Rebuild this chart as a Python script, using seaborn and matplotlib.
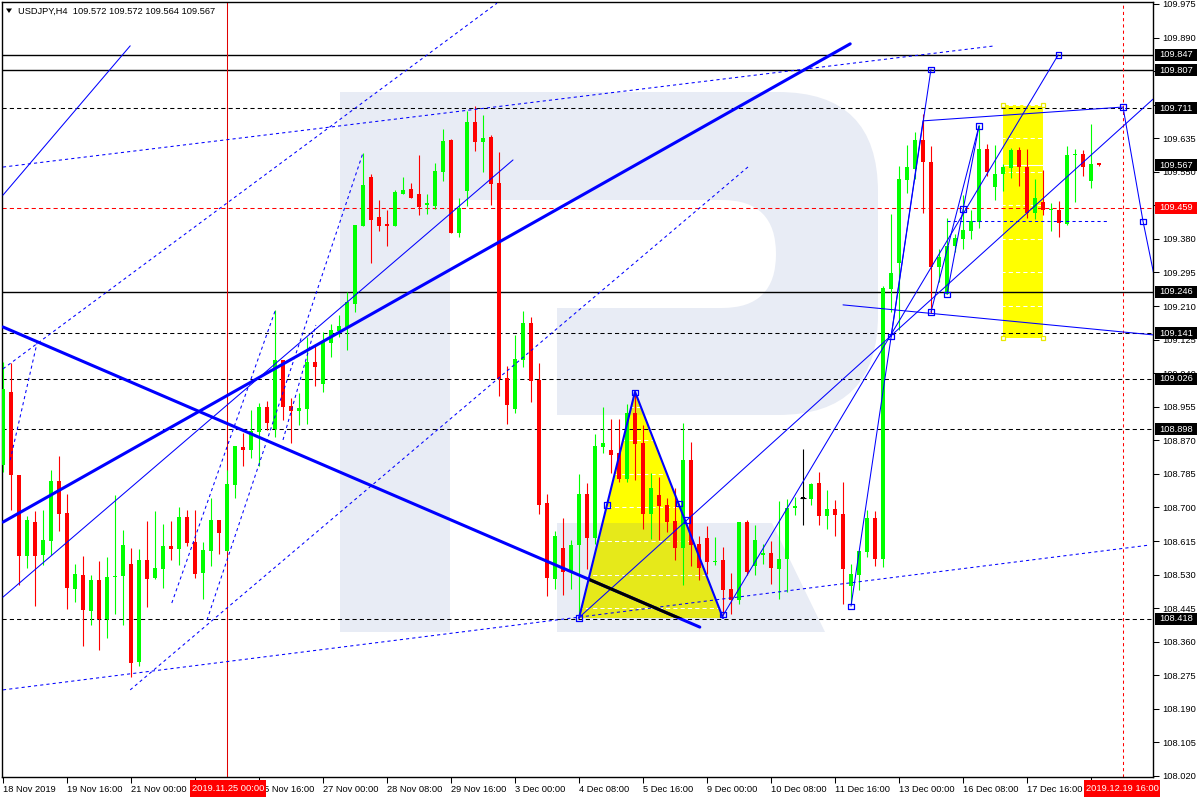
import numpy as np
import pandas as pd
import matplotlib
matplotlib.use("Agg")
import matplotlib.pyplot as plt
import matplotlib.patches as mpatches
import matplotlib.transforms as mtransforms
from matplotlib.path import Path
import seaborn as sns

# ---------------- data (bar index k = H4 bar, price) ----------------
opens = [108.808, 108.993, 108.782, 108.577, 108.664, 108.580, 108.615, 108.767, 108.686, 108.493,
         108.529, 108.438, 108.516, 108.418, 108.525, 108.526, 108.557, 108.309, 108.567, 108.521,
         108.544, 108.603, 108.595, 108.676, 108.613, 108.534, 108.590, 108.668, 108.590, 108.757,
         108.853, 108.845, 108.891, 108.954, 108.899, 109.073, 108.957, 108.944, 108.949, 109.068,
         109.013, 109.116, 109.147, 109.157, 109.215, 109.413, 109.537, 109.435, 109.418, 109.413,
         109.494, 109.506, 109.494, 109.466, 109.463, 109.549, 109.630, 109.395, 109.501, 109.676,
         109.625, 109.638, 109.522, 109.028, 108.949, 109.073, 109.167, 109.023, 108.711, 108.519,
         108.597, 108.537, 108.605, 108.734, 108.623, 108.853, 108.845, 108.838, 108.772, 108.939,
         108.863, 108.684, 108.732, 108.706, 108.666, 108.598, 108.820, 108.608, 108.623, 108.562,
         108.567, 108.494, 108.466, 108.664, 108.552, 108.580, 108.585, 108.545, 108.570, 108.699,
         108.724, 108.721, 108.762, 108.678, 108.696, 108.683, 108.501, 108.529, 108.587, 108.673,
         108.569, 109.253, 109.319, 109.529, 109.557, 109.630, 109.575, 109.309, 109.240, 109.362,
         109.380, 109.400, 109.423, 109.608, 109.511, 109.544, 109.560, 109.605, 109.562, 109.446,
         109.473, 109.453, 109.453, 109.418, 109.593, 109.595, 109.527, 109.572]
highs = [109.068, 109.066, 108.782, 108.678, 108.692, 108.694, 108.795, 108.830, 108.734, 108.557,
         108.577, 108.529, 108.564, 108.574, 108.731, 108.643, 108.597, 108.595, 108.666, 108.692,
         108.658, 108.666, 108.701, 108.694, 108.694, 108.612, 108.724, 108.668, 108.795, 108.856,
         108.888, 108.947, 108.964, 108.969, 109.200, 109.073, 108.977, 108.990, 109.132, 109.109,
         109.144, 109.164, 109.187, 109.246, 109.415, 109.598, 109.544, 109.478, 109.453, 109.504,
         109.537, 109.522, 109.593, 109.494, 109.572, 109.658, 109.633, 109.484, 109.704, 109.717,
         109.694, 109.643, 109.600, 109.058, 109.137, 109.197, 109.182, 109.066, 108.734, 108.640,
         108.673, 108.618, 108.785, 108.762, 108.886, 108.954, 108.924, 108.924, 108.962, 108.990,
         108.909, 108.787, 108.777, 108.724, 108.750, 108.914, 108.866, 108.628, 108.652, 108.625,
         108.600, 108.534, 108.664, 108.669, 108.656, 108.608, 108.615, 108.717, 108.722, 108.727,
         108.848, 108.762, 108.790, 108.744, 108.719, 108.764, 108.557, 108.590, 108.694, 108.691,
         109.260, 109.443, 109.565, 109.618, 109.651, 109.696, 109.615, 109.354, 109.433, 109.392,
         109.491, 109.453, 109.668, 109.620, 109.618, 109.570, 109.610, 109.613, 109.608, 109.532,
         109.555, 109.471, 109.476, 109.615, 109.608, 109.605, 109.671, 109.572]
lows = [108.790, 108.694, 108.504, 108.547, 108.451, 108.554, 108.580, 108.640, 108.443, 108.460,
        108.349, 108.403, 108.339, 108.369, 108.430, 108.402, 108.271, 108.299, 108.448, 108.520,
        108.496, 108.567, 108.554, 108.603, 108.522, 108.467, 108.552, 108.582, 108.590, 108.724,
        108.805, 108.825, 108.805, 108.896, 108.878, 108.921, 108.863, 108.909, 108.911, 109.008,
        108.992, 109.081, 109.132, 109.099, 109.195, 109.413, 109.319, 109.400, 109.362, 109.413,
        109.494, 109.484, 109.441, 109.443, 109.456, 109.527, 109.395, 109.385, 109.463, 109.603,
        109.550, 109.466, 108.982, 108.911, 108.939, 109.056, 108.967, 108.683, 108.475, 108.494,
        108.478, 108.494, 108.423, 108.544, 108.607, 108.838, 108.787, 108.765, 108.765, 108.770,
        108.646, 108.620, 108.618, 108.638, 108.567, 108.504, 108.552, 108.516, 108.532, 108.554,
        108.428, 108.430, 108.456, 108.529, 108.529, 108.557, 108.506, 108.469, 108.486, 108.681,
        108.656, 108.706, 108.656, 108.646, 108.628, 108.455, 108.455, 108.490, 108.575, 108.552,
        108.550, 109.195, 109.149, 109.496, 109.532, 109.446, 109.192, 109.271, 109.240, 109.347,
        109.354, 109.380, 109.408, 109.539, 109.478, 109.501, 109.534, 109.514, 109.433, 109.430,
        109.441, 109.400, 109.385, 109.415, 109.473, 109.539, 109.509, 109.564]
closes = [109.000, 108.782, 108.577, 108.668, 108.577, 108.618, 108.767, 108.684, 108.496, 108.532,
          108.441, 108.516, 108.418, 108.524, 108.527, 108.605, 108.306, 108.567, 108.519, 108.547,
          108.603, 108.595, 108.676, 108.610, 108.532, 108.592, 108.668, 108.635, 108.759, 108.856,
          108.845, 108.894, 108.954, 108.914, 109.073, 108.954, 108.944, 108.952, 109.068, 109.056,
          109.121, 109.149, 109.160, 109.220, 109.415, 109.516, 109.428, 109.413, 109.413, 109.499,
          109.504, 109.484, 109.461, 109.471, 109.552, 109.628, 109.395, 109.458, 109.676, 109.625,
          109.636, 109.519, 109.025, 108.960, 109.076, 109.167, 109.020, 108.706, 108.521, 108.627,
          108.537, 108.605, 108.734, 108.623, 108.856, 108.863, 108.833, 108.772, 108.939, 108.861,
          108.684, 108.750, 108.704, 108.663, 108.598, 108.820, 108.605, 108.547, 108.562, 108.563,
          108.491, 108.466, 108.664, 108.537, 108.618, 108.585, 108.547, 108.570, 108.699, 108.704,
          108.724, 108.759, 108.678, 108.696, 108.681, 108.544, 108.532, 108.590, 108.673, 108.569,
          109.256, 109.294, 109.532, 109.562, 109.630, 109.575, 109.309, 109.334, 109.362, 109.382,
          109.402, 109.425, 109.608, 109.549, 109.544, 109.562, 109.605, 109.562, 109.446, 109.484,
          109.453, 109.455, 109.420, 109.593, 109.595, 109.562, 109.570, 109.567]

x_tick_bars = [0, 8, 16, 24, 32, 40, 48, 56, 64, 72, 80, 88, 96, 104, 112, 120, 128, 136]
# labels at 24 and 136 are fully hidden by the red crosshair time boxes in the reference
x_tick_labels = ["18 Nov 2019", "19 Nov 16:00", "21 Nov 00:00", "", "25 Nov 16:00",
                 "27 Nov 00:00", "28 Nov 08:00", "29 Nov 16:00", "3 Dec 00:00", "4 Dec 08:00",
                 "5 Dec 16:00", "9 Dec 00:00", "10 Dec 08:00", "11 Dec 16:00", "13 Dec 00:00",
                 "16 Dec 08:00", "17 Dec 16:00", ""]
price_ticks = [108.020, 108.105, 108.190, 108.275, 108.360, 108.445, 108.530, 108.615, 108.700,
               108.785, 108.870, 108.955, 109.040, 109.125, 109.210, 109.295, 109.380, 109.465,
               109.550, 109.635, 109.720, 109.805, 109.890, 109.975]
hidden_price_ticks = [109.465, 109.720, 109.805]

solid_levels = [109.847, 109.807, 109.246]
dashed_levels = [109.711, 109.141, 109.026, 108.898, 108.418]
red_level = 109.459
current_price = 109.567
black_price_boxes = [109.847, 109.807, 109.711, 109.567, 109.246, 109.141, 109.026, 108.898, 108.418]

crosshair_bar = 28
future_bar = 140

thick_lines = [([0.0, 105.9], [108.663, 109.874]),
               ([0.0, 87.1], [109.157, 108.397])]
thin_lines = [([0.0, 15.9], [109.491, 109.869]),
              ([0.0, 63.75], [108.473, 109.580]),
              ([72.1, 143.75], [108.423, 109.734]),
              ([89.9, 131.9], [108.423, 109.846]),
              ([106.0, 116.0], [108.450, 109.810]),
              ([111.0, 115.0, 140.0, 142.5, 144.0], [109.132, 109.679, 109.714, 109.425, 109.276]),
              ([105.0, 143.75], [109.213, 109.137]),
              ([116.0, 122.0], [109.195, 109.666]),
              ([118.0, 122.0], [109.240, 109.666])]
dotted_lines = [([0.0, 124.0], [109.562, 109.869]),
                ([0.0, 61.75], [109.051, 109.977]),
                ([0.0, 143.4], [108.238, 108.605]),
                ([15.9, 93.4], [108.238, 109.567]),
                ([21.1, 34.0], [108.458, 109.197]),
                ([25.5, 45.0], [108.415, 109.598]),
                ([35.0, 39.1], [108.871, 109.162]),
                ([0.9, 4.25], [108.820, 109.116]),
                ([118.0, 138.0], [109.425, 109.425])]
pattern_bars = [72, 79, 90]
pattern_prices = [108.420, 108.993, 108.420]
square_bars = [72, 75.5, 79, 84.5, 90, 85.5, 106, 116, 131.9, 111, 116, 118, 120, 122, 140, 142.5]
square_prices = [108.420, 108.706, 108.992, 108.709, 108.428, 108.668, 108.450, 109.810, 109.846,
                 109.132, 109.195, 109.240, 109.456, 109.666, 109.714, 109.425]
rect_bars = [125, 130]
rect_prices = [109.130, 109.718]

header = "USDJPY,H4  109.572 109.572 109.564 109.567"

# ---------------- style ----------------
sns.set_theme(style="white")
plt.rcParams['font.family'] = ['Liberation Sans', 'DejaVu Sans']

W, H = 1200, 800
fig = plt.figure(figsize=(12, 8), dpi=100)
fig.patch.set_facecolor('white')
ax = fig.add_axes([2 / W, 23 / H, 1151 / W, 775 / H])
ax.set_facecolor('white')
ax.set_xlim(-0.125, 143.75)
ax.set_ylim(108.0174, 109.980)
ax.grid(False)
for s in ax.spines.values():
    s.set_color('black')
    s.set_linewidth(1.0)

T_px = mtransforms.Affine2D().scale(1 / W, -1 / H).translate(0, 1) + fig.transFigure

BLUE = '#0000ff'
WM = '#e8ecf5'
WM_Y = '#e6e91a'

# ---------------- watermark (decoration, image-pixel frame) ----------------
def bowl_path():
    verts = [(340, 92), (778, 92), (878, 92), (878, 192), (878, 315), (878, 415), (778, 415),
             (340, 415), (340, 92)]
    codes = [Path.MOVETO, Path.LINETO, Path.CURVE3, Path.CURVE3, Path.LINETO, Path.CURVE3,
             Path.CURVE3, Path.LINETO, Path.CLOSEPOLY]
    return Path(verts, codes)

def hole_path():
    verts = [(450, 200), (722, 200), (776, 200), (776, 254), (776, 308), (722, 308), (557, 308),
             (557, 415), (450, 415), (450, 200)]
    codes = [Path.MOVETO, Path.LINETO, Path.CURVE3, Path.CURVE3, Path.CURVE3, Path.CURVE3,
             Path.LINETO, Path.LINETO, Path.LINETO, Path.CLOSEPOLY]
    return Path(verts, codes)

leg_pts = [(557, 523), (772, 523), (825, 632), (557, 632)]

def add_watermark(color, z, clip=None):
    arts = []
    arts.append(mpatches.PathPatch(bowl_path(), transform=T_px, fc=color, ec='none', zorder=z))
    arts.append(mpatches.Rectangle((340, 92), 110, 540, transform=T_px, fc=color, ec='none', zorder=z))
    arts.append(mpatches.Polygon(leg_pts, closed=True, transform=T_px, fc=color, ec='none', zorder=z))
    for a in arts:
        ax.add_patch(a)
        if clip is not None:
            a.set_clip_path(clip)
    return arts

add_watermark(WM, 0.5)
ax.add_patch(mpatches.PathPatch(hole_path(), transform=T_px, fc='white', ec='none', zorder=0.6))

# ---------------- yellow objects ----------------
tri = mpatches.Polygon(list(zip(pattern_bars, pattern_prices)), closed=True, fc='#ffff00', ec='none',
                       zorder=1.0, transform=ax.transData)
ax.add_patch(tri)
add_watermark(WM_Y, 1.05, clip=tri)
hole_y = mpatches.PathPatch(hole_path(), transform=T_px, fc='#ffff00', ec='none', zorder=1.06)
ax.add_patch(hole_y)
hole_y.set_clip_path(tri)

rect = mpatches.Rectangle((rect_bars[0], rect_prices[0]), rect_bars[1] - rect_bars[0],
                          rect_prices[1] - rect_prices[0], fc='#ffff00', ec='none', zorder=1.0)
ax.add_patch(rect)

for patch in (tri, rect):
    for v in price_ticks:
        ln = ax.axhline(v, color='white', lw=0.75, ls=(0, (4, 3)), zorder=1.2)
        ln.set_clip_path(patch)
ln = ax.axhline(current_price, color='white', lw=0.8, zorder=1.2)
ln.set_clip_path(rect)

# ---------------- levels ----------------
for v in solid_levels:
    ax.axhline(v, color='black', lw=1.0, zorder=2)
for v in dashed_levels:
    ax.axhline(v, color='black', lw=0.75, ls=(0, (4, 3)), zorder=2)
ax.axhline(red_level, color='#ff0000', lw=0.75, ls=(0, (4, 3)), zorder=2)
ax.axvline(crosshair_bar, color='#e00000', lw=0.75, zorder=2)
ax.axvline(future_bar, color='#ff0000', lw=0.75, ls=(0, (3, 3)), zorder=2)

# ---------------- candles ----------------
df = pd.DataFrame({'k': np.arange(len(opens)), 'open': opens, 'high': highs,
                   'low': lows, 'close': closes})
df['color'] = np.where(df['close'] > df['open'], '#00ff00',
                       np.where(df['close'] < df['open'], '#ff0000', 'black'))
df['bottom'] = df[['open', 'close']].min(axis=1)
df['height'] = (df['close'] - df['open']).abs().clip(lower=0.0026)
ax.vlines(df['k'], df['low'], df['high'], colors=df['color'], lw=0.8, zorder=3)
ax.bar(df['k'], df['height'], bottom=df['bottom'], width=0.62, color=df['color'],
       linewidth=0, zorder=3.1)
dj = df[df['color'] == 'black']
ax.hlines(dj['open'], dj['k'] - 0.4, dj['k'] + 0.4, colors='black', lw=0.8, zorder=3.1)

# ---------------- drawn objects ----------------
for xs, ys in dotted_lines:
    ax.plot(xs, ys, color=BLUE, lw=0.75, ls=(0, (3, 3)), zorder=4)
for xs, ys in thin_lines:
    ax.plot(xs, ys, color=BLUE, lw=0.75, zorder=4)
for xs, ys in thick_lines:
    ax.plot(xs, ys, color=BLUE, lw=2.2, zorder=4.2)
blk, = ax.plot(thick_lines[1][0], thick_lines[1][1], color='black', lw=2.2, zorder=4.3)
blk.set_clip_path(tri)
ax.plot(pattern_bars, pattern_prices, color=BLUE, lw=1.5, zorder=4.4)
sns.scatterplot(x=square_bars, y=square_prices, marker='s', s=14, facecolor='none',
                edgecolor=BLUE, linewidth=0.9, zorder=5, ax=ax, legend=False)
ax.plot([rect_bars[0], rect_bars[1], rect_bars[0], rect_bars[1]],
        [rect_prices[0], rect_prices[0], rect_prices[1], rect_prices[1]],
        ls='none', marker='s', ms=3.5, mfc='white', mec='#e8e800', mew=0.9, zorder=5)
ax.set_xlim(-0.125, 143.75)
ax.set_ylim(108.0174, 109.980)

# ---------------- axes ticks ----------------
ax.yaxis.tick_right()
ax.set_yticks(price_ticks)
ax.set_yticklabels(["" if v in hidden_price_ticks else f"{v:.3f}" for v in price_ticks])
ax.tick_params(axis='y', which='both', direction='out', length=4, width=0.75, pad=3,
               labelsize=6.7, colors='black', right=True, left=False)
ax.set_xticks(x_tick_bars)
ax.set_xticklabels(x_tick_labels, ha='left')
ax.tick_params(axis='x', direction='out', length=4, width=0.75, pad=2, labelsize=6.7,
               colors='black', bottom=True)

# ---------------- price boxes ----------------
blend = mtransforms.blended_transform_factory(fig.transFigure, ax.transData)
hh = 6 * (109.980 - 108.0174) / 775
for v in black_price_boxes:
    fig.add_artist(mpatches.Rectangle((1155 / W, v - hh), 42 / W, 2 * hh, transform=blend,
                                      fc='black', ec='none', zorder=10))
    fig.text(1159 / W, v, f"{v:.3f}", color='white', fontsize=6.7, va='center', ha='left',
             transform=blend, zorder=11)
fig.add_artist(mpatches.Rectangle((1155 / W, red_level - hh), 42 / W, 2 * hh, transform=blend,
                                  fc='#ff0000', ec='none', zorder=10))
fig.text(1159 / W, red_level, f"{red_level:.3f}", color='white', fontsize=6.7, va='center',
         ha='left', transform=blend, zorder=11)

# ---------------- time crosshair labels ----------------
for cx, txt in [(228, "2019.11.25 00:00"), (1122, "2019.12.19 16:00")]:
    fig.add_artist(mpatches.Rectangle((cx - 38, 780), 76, 17, transform=T_px, fc='#ff0000',
                                      ec='none', zorder=10))
    fig.text(cx, 788.5, txt, transform=T_px, color='white', fontsize=6.7, ha='center',
             va='center', zorder=11)

# ---------------- header ----------------
fig.add_artist(mpatches.Polygon([(6, 8.5), (12, 8.5), (9, 13)], closed=True, transform=T_px,
                                fc='black', ec='none', zorder=10))
fig.text(18, 11, header, transform=T_px, fontsize=6.7, va='center', ha='left', color='black',
         zorder=11)

fig.savefig("out.png", dpi=100, facecolor='white')
